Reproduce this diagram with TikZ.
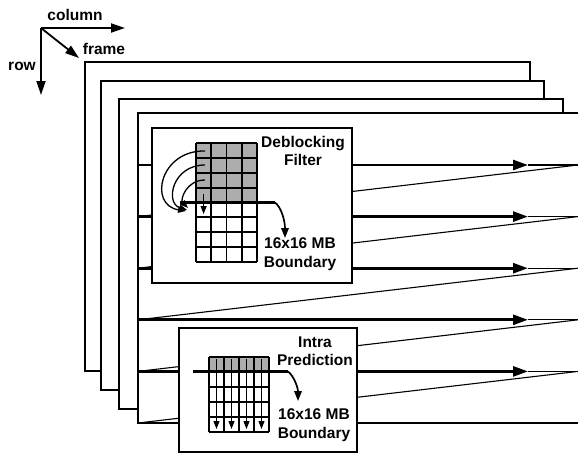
\documentclass[tikz,border=0pt]{standalone}
\usepackage{fontspec}
\setmainfont{Liberation Sans}
\usetikzlibrary{arrows.meta}
\begin{document}
\begin{tikzpicture}[x=1pt,y=-1pt,
  vframe/.style={draw,line width=2.5pt,fill=white},
  panel/.style={draw,line width=1.6pt,fill=white,inner sep=0pt},
  scanline/.style={line width=2.7pt,-{Triangle[length=15pt,width=10pt]}},
  retrace/.style={line width=1.1pt},
  gridline/.style={line width=1.8pt},
  mbline/.style={line width=2.7pt},
  lbl/.style={font=\bfseries\fontsize{15.5}{18.5}\selectfont,align=center,inner sep=0pt},
  axis/.style={line width=1.8pt,-{Triangle[length=14pt,width=9pt]}},
  smallarrow/.style={line width=1.3pt,-{Triangle[length=8pt,width=6pt]}},
  bendarrow/.style={line width=1.7pt,-{Triangle[length=10pt,width=7.5pt]}}]
\useasboundingbox (0,0) rectangle (578,453);
\clip (0,0) rectangle (578,453);

% axes
\coordinate (o) at (41,28);
\coordinate (cx) at (125,28);
\coordinate (fx) at (79,58);
\coordinate (rx) at (41,95);
\draw[axis] (o) -- (cx);
\draw[axis] (o) -- (fx);
\draw[axis] (o) -- (rx);
\node[lbl] (colname) at (75,15) {column};
\node[lbl] (framename) at (104,49) {frame};
\node[lbl] (rowname) at (22,66) {row};

% stack of frames, back to front
\draw[vframe] (85,62) rectangle (530,371);
\draw[vframe] (101,81) rectangle (544,390);
\draw[vframe] (119,99) rectangle (563,409);
\draw[vframe] (138,113) rectangle (600,423);

% raster scan inside the front frame
\foreach \i in {0,...,4}{
  \pgfmathsetmacro{\ya}{165+51.6*\i}
  \pgfmathsetmacro{\yb}{165+51.6*(\i+1)}
  \coordinate (l\i) at (138,\ya);
  \coordinate (t\i) at (528,\ya);
  \coordinate (r\i) at (578,\ya);
  \coordinate (n\i) at (138,\yb);
  \draw[scanline] (l\i) -- (t\i);
  \draw[retrace] (t\i) -- (r\i);
  \draw[retrace] (r\i) -- (n\i);
}

% deblocking filter panel
\node[panel,minimum width=200pt,minimum height=155pt] (dbf) at (252,205.5) {};
\fill[black!32] (196,143) rectangle (257,202.6);
\foreach \k in {0,...,4}
  \draw[gridline] ({196+15.25*\k},143) -- ({196+15.25*\k},262);
\foreach \k in {0,...,8}
  \draw[gridline] (196,{143+14.875*\k}) -- (257,{143+14.875*\k});
\coordinate (db0) at (180,202.5);
\coordinate (db1) at (275,202.5);
\draw[mbline] (db0) -- (db1);
% neighbouring pixel references
\coordinate (s1) at (205,151);
\coordinate (s2) at (205,165);
\coordinate (s3) at (205,180);
\coordinate (e1) at (186,211);
\coordinate (e2) at (187,210);
\coordinate (e3) at (188,208);
\draw[smallarrow] (s1) .. controls (160,150) and (148,205) .. (e1);
\draw[smallarrow] (s2) .. controls (172,165) and (165,203) .. (e2);
\draw[smallarrow] (s3) .. controls (186,180) and (180,200) .. (e3);
\coordinate (d0) at (203.6,194);
\coordinate (d1) at (203.6,214);
\draw[smallarrow] (d0) -- (d1);
\node[lbl] (dbname) at (303,151) {Deblocking\\Filter};
\node[lbl] (dbmb) at (300,254) {16x16 MB\\Boundary};
\coordinate (dtip) at (285,238);
\draw[bendarrow] (db1) .. controls (281,207) and (285,220) .. (dtip);

% intra prediction panel
\node[panel,minimum width=178pt,minimum height=124pt] (ip) at (268,390) {};
\fill[black!32] (209,357) rectangle (269,372);
\foreach \k in {0,...,4}
  \draw[gridline] ({209+15*\k},357) -- ({209+15*\k},432);
\foreach \k in {0,...,5}
  \draw[gridline] (209,{357+15*\k}) -- (269,{357+15*\k});
\coordinate (ib0) at (193,371.5);
\coordinate (ib1) at (288,371.5);
\draw[mbline] (ib0) -- (ib1);
\foreach \k in {0,...,3}{
  \coordinate (v\k a) at ({216.5+15*\k},359);
  \coordinate (v\k b) at ({216.5+15*\k},429);
  \draw[smallarrow] (v\k a) -- (v\k b);
}
\node[lbl] (ipname) at (315,351) {Intra\\Prediction};
\node[lbl] (ipmb) at (314,425) {16x16 MB\\Boundary};
\coordinate (itip) at (298,401);
\draw[bendarrow] (ib1) .. controls (294,376) and (298,388) .. (itip);
\end{tikzpicture}
\end{document}
